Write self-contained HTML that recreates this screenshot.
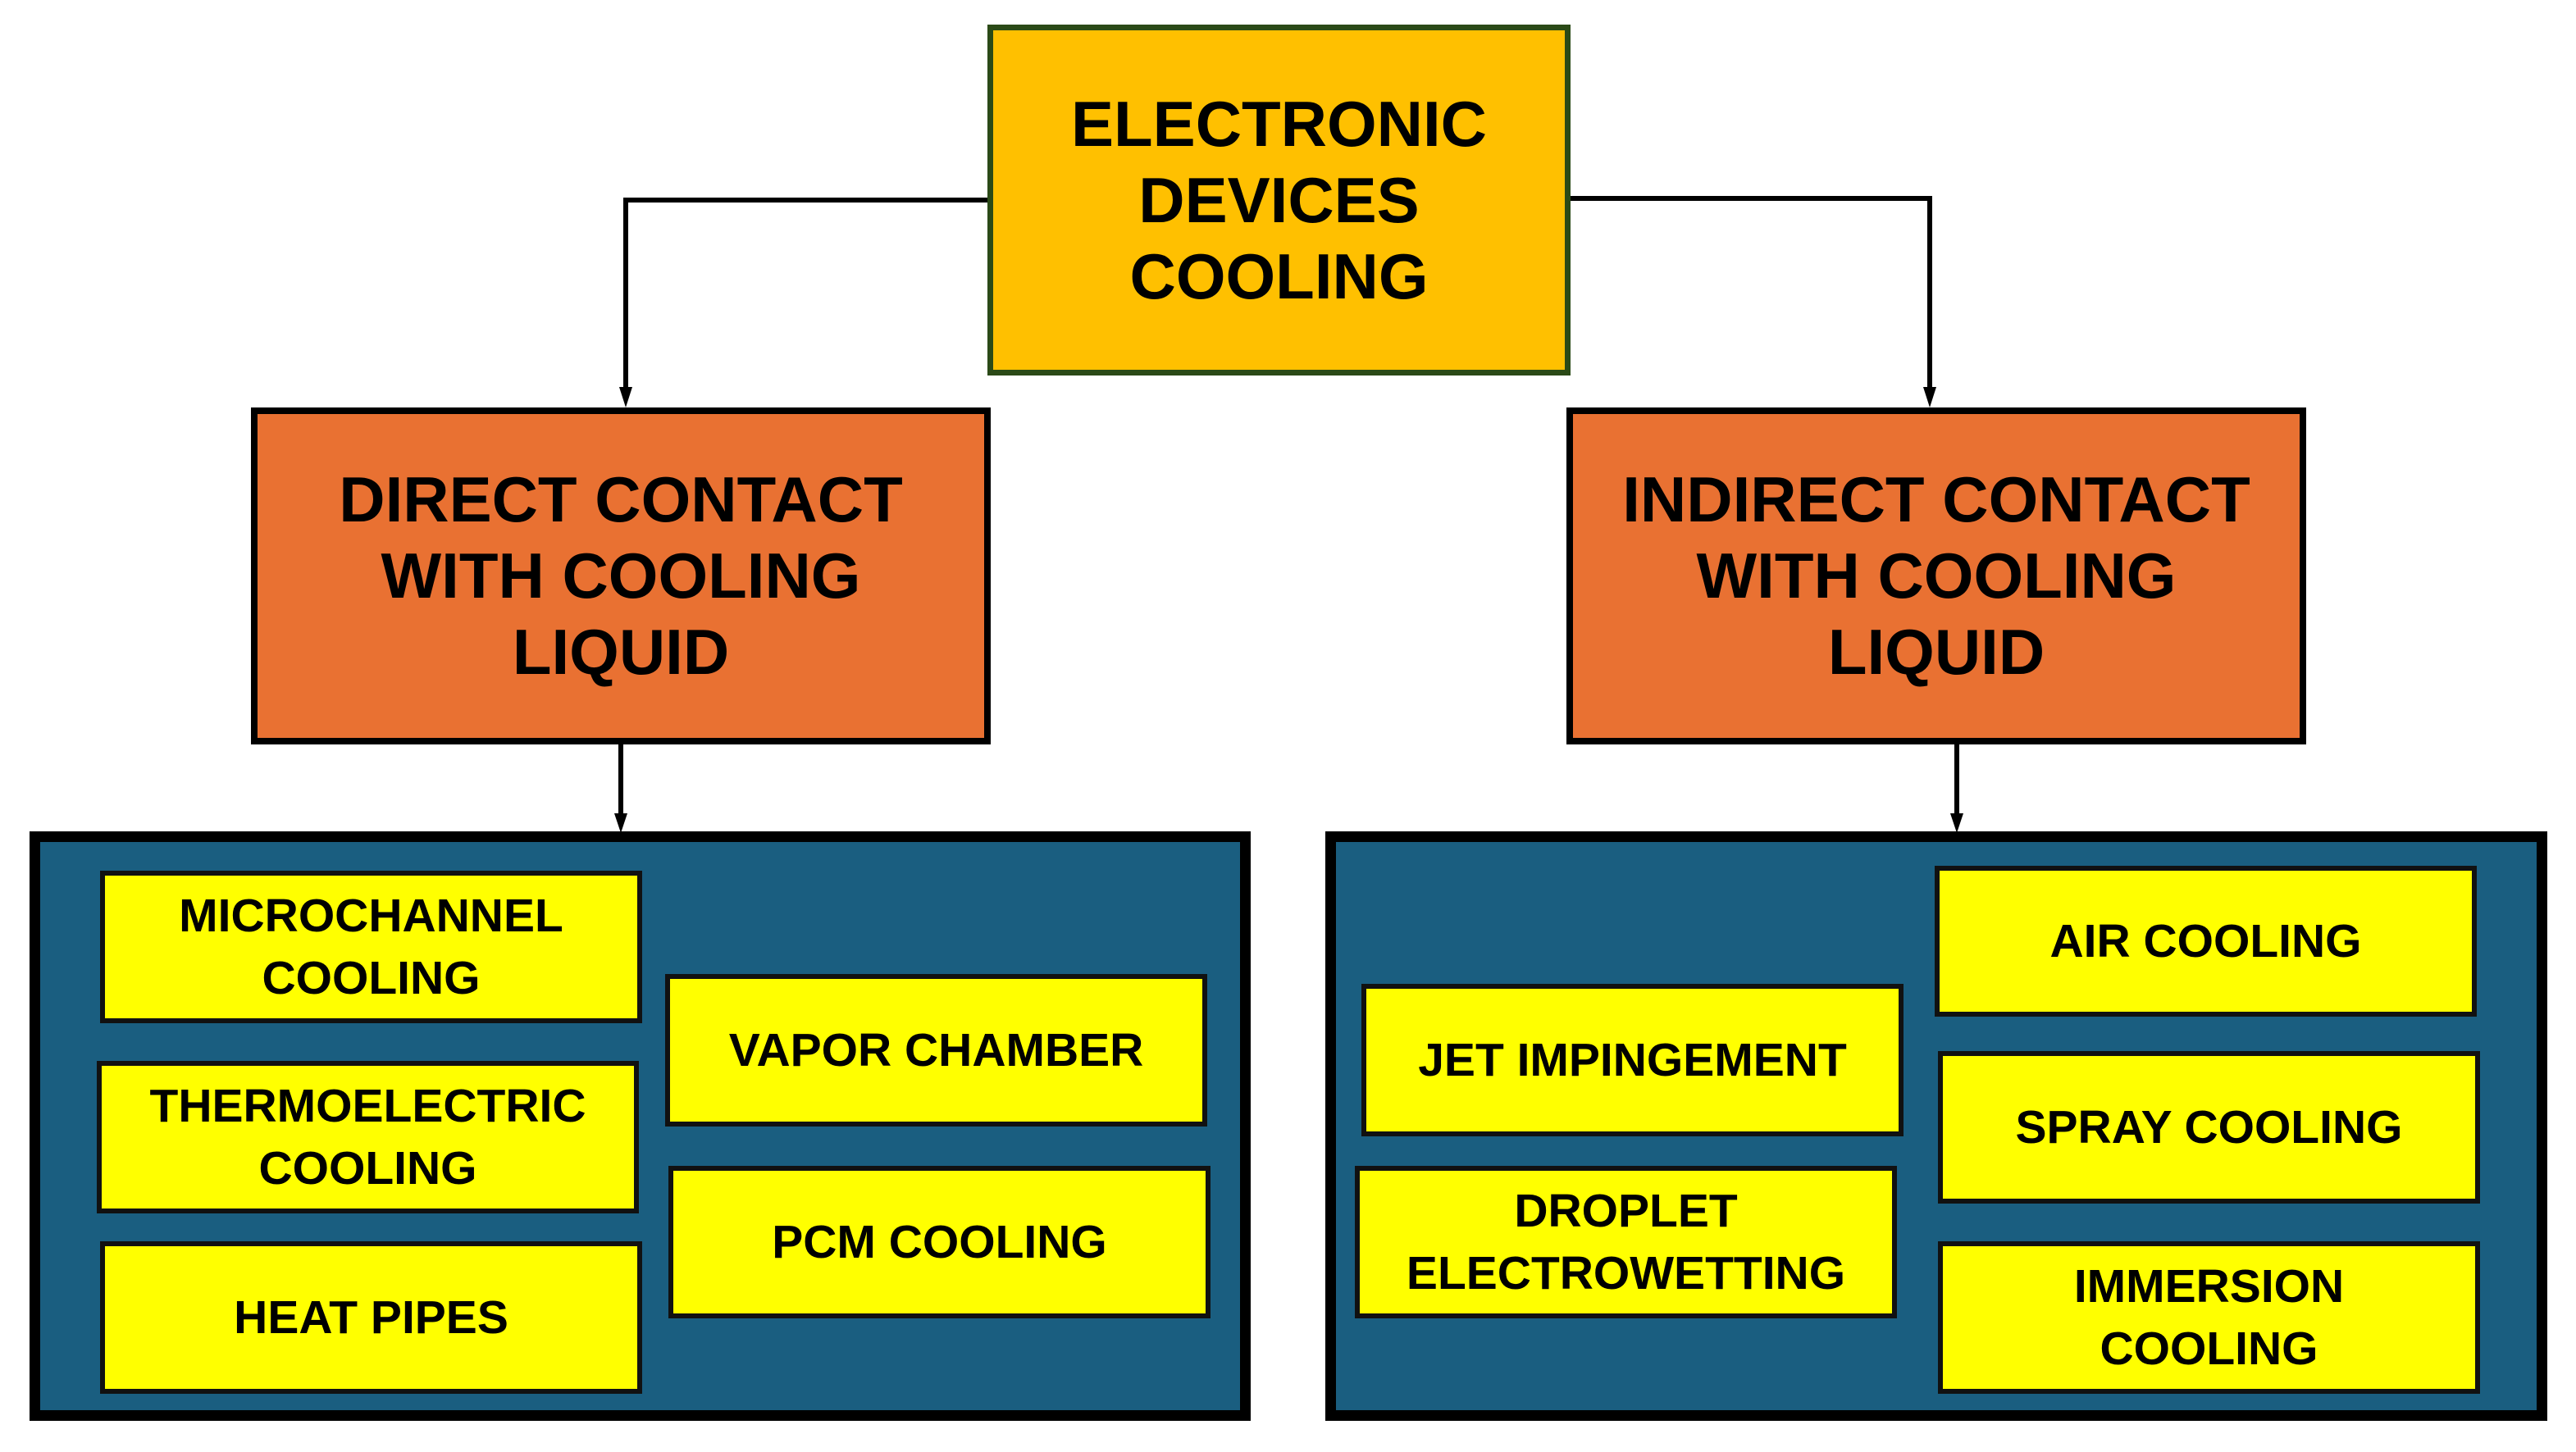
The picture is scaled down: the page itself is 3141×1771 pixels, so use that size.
<!DOCTYPE html>
<html><head><meta charset="utf-8"><style>
html,body{margin:0;padding:0;background:#fff}
body{width:3141px;height:1771px;position:relative;overflow:hidden;font-family:"Liberation Sans",sans-serif;font-weight:bold;color:#000}
.b{position:absolute;box-sizing:border-box;display:flex;align-items:center;justify-content:center;text-align:center}
.top{background:#FFC000;border:7px solid #2B4A17;font-size:78px;line-height:93px}
.or{background:#E97132;border:8px solid #000;font-size:78px;line-height:93px}
.pn{background:#1A5E80;border:13px solid #000}
.y{background:#FFFF00;border:6px solid #111;font-size:57px;line-height:76px}
svg{position:absolute;left:0;top:0}
</style></head><body>
<div class="b pn" style="left:36px;top:1014px;width:1489px;height:719px"></div>
<div class="b pn" style="left:1616px;top:1014px;width:1490px;height:719px"></div>
<div class="b top" style="left:1204px;top:30px;width:711px;height:428px">ELECTRONIC<br>DEVICES<br>COOLING</div>
<div class="b or" style="left:306px;top:497px;width:902px;height:411px">DIRECT CONTACT<br>WITH COOLING<br>LIQUID</div>
<div class="b or" style="left:1910px;top:497px;width:902px;height:411px">INDIRECT CONTACT<br>WITH COOLING<br>LIQUID</div>
<div class="b y" style="left:122px;top:1062px;width:661px;height:186px">MICROCHANNEL<br>COOLING</div>
<div class="b y" style="left:118px;top:1294px;width:661px;height:186px">THERMOELECTRIC<br>COOLING</div>
<div class="b y" style="left:122px;top:1514px;width:661px;height:186px">HEAT PIPES</div>
<div class="b y" style="left:811px;top:1188px;width:661px;height:186px">VAPOR CHAMBER</div>
<div class="b y" style="left:815px;top:1422px;width:661px;height:186px">PCM COOLING</div>
<div class="b y" style="left:1660px;top:1200px;width:661px;height:186px">JET IMPINGEMENT</div>
<div class="b y" style="left:1652px;top:1422px;width:661px;height:186px">DROPLET<br>ELECTROWETTING</div>
<div class="b y" style="left:2359px;top:1056px;width:661px;height:184px">AIR COOLING</div>
<div class="b y" style="left:2363px;top:1282px;width:661px;height:186px">SPRAY COOLING</div>
<div class="b y" style="left:2363px;top:1514px;width:661px;height:186px">IMMERSION<br>COOLING</div>
<svg width="3141" height="1771" viewBox="0 0 3141 1771">
<g fill="none" stroke="#000" stroke-width="6">
<polyline points="1204,244 763,244 763,478"/>
<polyline points="1915,242 2353,242 2353,478"/>
<line x1="757" y1="908" x2="757" y2="996"/>
<line x1="2386" y1="908" x2="2386" y2="996"/>
</g>
<g fill="#000">
<polygon points="755,472 771,472 763,497"/>
<polygon points="2345,472 2361,472 2353,497"/>
<polygon points="749,992 765,992 757,1016"/>
<polygon points="2378,992 2394,992 2386,1016"/>
</g>
</svg>
</body></html>
